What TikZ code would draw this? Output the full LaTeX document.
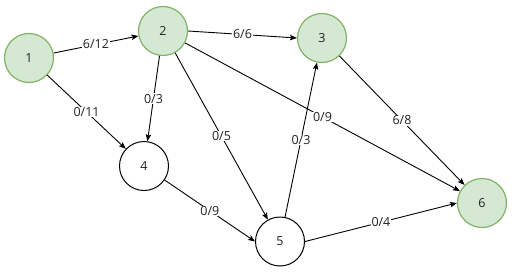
\documentclass[tikz,border=0pt]{standalone}
\usepackage{fontspec}
\setmainfont{Open Sans}
\usetikzlibrary{arrows.meta}
\definecolor{gfill}{HTML}{D5E8D4}
\definecolor{gdraw}{HTML}{82B366}
\definecolor{txt}{HTML}{222222}
\begin{document}
\begin{tikzpicture}[x=1pt,y=-1pt,
  vtx/.style={circle,draw=black,fill=white,line width=1pt,minimum size=49pt,inner sep=0pt,font=\fontsize{12.5}{14}\selectfont,text=txt},
  gvtx/.style={vtx,draw=gdraw,fill=gfill,line width=1.2pt},
  edge/.style={draw=black,line width=0.9pt,-{Stealth[length=7pt,width=5.5pt,inset=1.5pt]}},
  lbl/.style={fill=white,inner sep=0.6pt,font=\fontsize{12.5}{14}\selectfont,text=txt}]
\useasboundingbox (0,0) rectangle (512,271);
\node[gvtx] (n1) at (29,58) {1};
\node[gvtx] (n2) at (163,31) {2};
\node[gvtx] (n3) at (322,38) {3};
\node[vtx] (n4) at (144,166) {4};
\node[vtx] (n5) at (280,241.5) {5};
\node[gvtx] (n6) at (482,203) {6};
\draw[edge] (n1) -- node[lbl] {6/12} (n2);
\draw[edge] (n1) -- node[lbl] {0/11} (n4);
\draw[edge] (n2) -- node[lbl] {0/3} (n4);
\draw[edge] (n2.east) -- node[lbl] {6/6} (n3.west);
\draw[edge] (n2) -- node[lbl] {0/5} (n5);
\draw[edge] (n2) -- node[lbl] {0/9} (n6);
\draw[edge] (n3) -- node[lbl] {6/8} (n6);
\draw[edge] (n4) -- node[lbl] {0/9} (n5.west);
\draw[edge] (n5) -- node[lbl] {0/3} (n3);
\draw[edge] (n5.east) -- node[lbl] {0/4} (n6.west);
\end{tikzpicture}
\end{document}
